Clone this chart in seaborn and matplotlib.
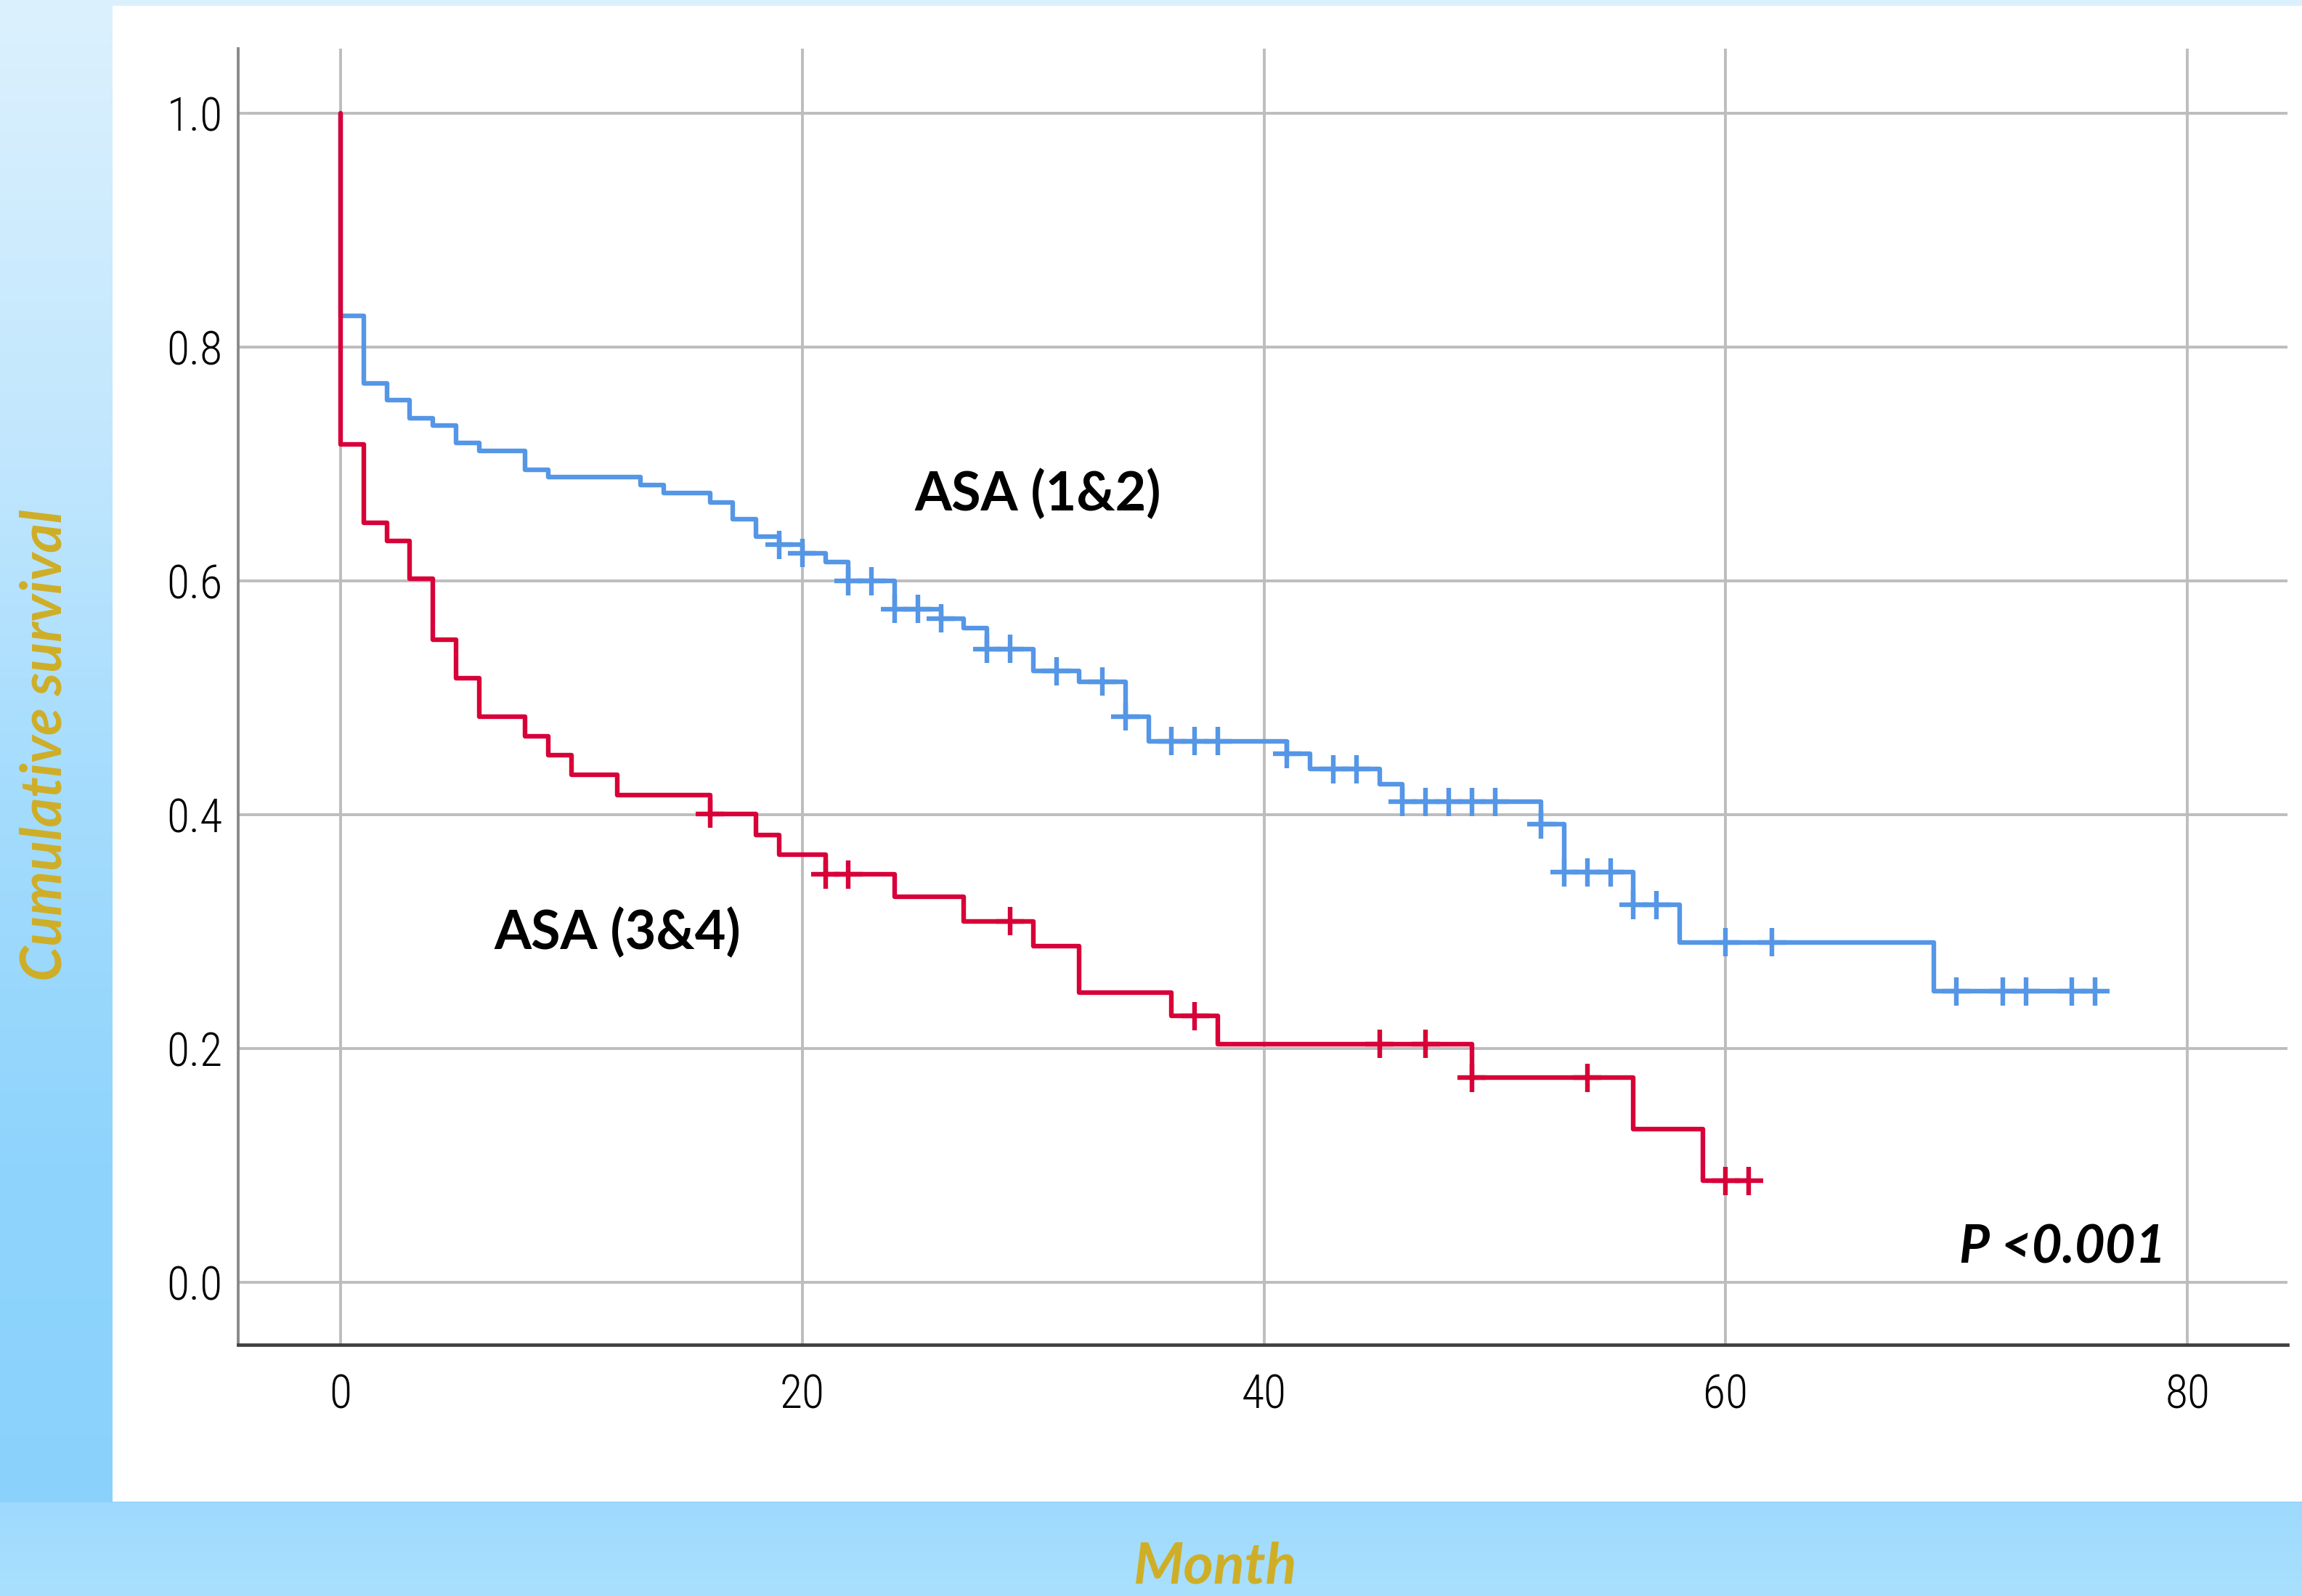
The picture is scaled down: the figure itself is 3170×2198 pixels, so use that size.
import numpy as np
import pandas as pd
import seaborn as sns
import matplotlib.pyplot as plt
from matplotlib.colors import to_rgb
from matplotlib.patches import Rectangle

# Kaplan-Meier steps
# ASA (1&2): times of the drops and the survival after each drop
times_12 = [0, 1, 2, 3, 4, 5, 6, 8, 9, 13, 14, 16, 17, 18, 19, 20, 21, 22, 24, 26,
            27, 28, 30, 32, 34, 35, 41, 42, 45, 46, 52, 53, 56, 58, 69]
surv_12 = [0.827, 0.769, 0.755, 0.739, 0.733, 0.718, 0.711, 0.695, 0.689, 0.682,
           0.675, 0.667, 0.653, 0.638, 0.631, 0.624, 0.616, 0.600, 0.576, 0.568,
           0.560, 0.542, 0.523, 0.514, 0.484, 0.463, 0.452, 0.439, 0.426, 0.411,
           0.392, 0.351, 0.323, 0.291, 0.249]
censor_12 = [19, 20, 22, 23, 24, 25, 26, 28, 29, 31, 33, 34, 36, 37, 38, 41, 43, 44,
             46, 47, 48, 49, 50, 52, 53, 54, 55, 56, 57, 60, 62, 70, 72, 73, 75, 76]
end_12 = 76

# ASA (3&4)
times_34 = [0, 1, 2, 3, 4, 5, 6, 8, 9, 10, 12, 16, 18, 19, 21, 24, 27, 30, 32, 36,
            38, 49, 56, 59]
surv_34 = [0.717, 0.650, 0.634, 0.602, 0.550, 0.517, 0.484, 0.467, 0.451, 0.434,
           0.417, 0.401, 0.383, 0.366, 0.349, 0.330, 0.309, 0.288, 0.248, 0.228,
           0.204, 0.175, 0.131, 0.087]
censor_34 = [16, 21, 22, 29, 37, 45, 47, 49, 54, 60, 61]
end_34 = 61

groups = ["ASA (1&2)", "ASA (3&4)"]
x_ticks = [0, 20, 40, 60, 80]
y_ticks = [0.0, 0.2, 0.4, 0.6, 0.8, 1.0]

BLUE = "#5596e6"
RED = "#d70038"
GOLD = "#cfae27"


def steps(name, times, surv, end):
    x = [0] + list(times) + [end]
    y = [1.0] + list(surv) + [surv[-1]]
    return pd.DataFrame({"group": name, "month": x, "surv": y})


def censored(name, times, surv, cens):
    idx = np.searchsorted(times, cens, side="right") - 1
    return pd.DataFrame({"group": name, "month": cens,
                         "surv": np.asarray(surv)[idx]})


curve = pd.concat([steps(groups[0], times_12, surv_12, end_12),
                   steps(groups[1], times_34, surv_34, end_34)], ignore_index=True)
marks = pd.concat([censored(groups[0], times_12, surv_12, censor_12),
                   censored(groups[1], times_34, surv_34, censor_34)], ignore_index=True)

sns.set_theme(style="white")
plt.rcParams["font.family"] = ["Lato", "DejaVu Sans"]

W, H = 3170, 2198
fig = plt.figure(figsize=(W / 100, H / 100), dpi=100)

# light blue gradient frame behind a white panel
bg = fig.add_axes([0, 0, 1, 1], zorder=-10)
ypix = np.arange(H)
stops_y = [0, 600, 1100, 1600, 2068]
stops_c = ["#dcf1fd", "#c2e7fd", "#a4dcfd", "#8fd4fc", "#8ad2fc"]
cols = np.array([to_rgb(c) for c in stops_c])
img = np.zeros((H, 1, 3))
for k in range(3):
    img[:, 0, k] = np.interp(ypix, stops_y, cols[:, k])
low = ypix > 2068
b0, b1 = np.array(to_rgb("#9edafd")), np.array(to_rgb("#a9e0fd"))
t = (ypix[low] - 2068) / (H - 2068)
img[low, 0, :] = b0 + (b1 - b0) * t[:, None]
bg.imshow(img, aspect="auto", extent=[0, 1, 0, 1])
bg.add_patch(Rectangle((155 / W, 1 - 2068 / H), 1, (2068 - 8) / H,
                       transform=bg.transAxes, color="white", lw=0))
bg.set_axis_off()

ax = fig.add_axes([327.5 / W, 1 - 1852 / H, (3150 - 327.5) / W, (1852 - 66.7) / H])
ax.set_facecolor("white")

pal = {groups[0]: BLUE, groups[1]: RED}
sns.lineplot(data=curve, x="month", y="surv", hue="group", palette=pal,
             estimator=None, sort=False, drawstyle="steps-post", linewidth=4.6,
             hue_order=groups, legend=False, ax=ax, zorder=3)
sns.scatterplot(data=marks, x="month", y="surv", hue="group", palette=pal,
                hue_order=groups, marker="+", s=28 ** 2, linewidth=4.6,
                legend=False, ax=ax, zorder=4)

ax.set_xlim(-4.45, 84.33)
ax.set_ylim(-0.0533, 1.0556)
ax.set_xticks(x_ticks)
ax.set_yticks(y_ticks)
ax.set_yticklabels([f"{v:.1f}" for v in y_ticks])
ax.grid(True, color="#bdbdbd", lw=2.8)
ax.set_axisbelow(True)
ax.set_xlabel("")
ax.set_ylabel("")
for s in ["top", "right"]:
    ax.spines[s].set_visible(False)
ax.spines["left"].set_color("#8a8a8a")
ax.spines["left"].set_linewidth(2.8)
ax.spines["bottom"].set_color("#404040")
ax.spines["bottom"].set_linewidth(3.4)
ax.tick_params(axis="both", length=0, labelsize=46, labelcolor="black")
ax.tick_params(axis="y", pad=15)
ax.tick_params(axis="x", pad=28)
for lab in ax.get_xticklabels() + ax.get_yticklabels():
    lab.set_family(["Liberation Sans Narrow", "Roboto Condensed", "DejaVu Sans"])
    lab.set_fontweight("light")
    lab.set_fontstretch("condensed")

ax.text(30.2, 0.660, "ASA (1&2)", ha="center", va="baseline", fontsize=53,
        fontweight="bold", color="black", zorder=5)
ax.text(12.0, 0.285, "ASA (3&4)", ha="center", va="baseline", fontsize=53,
        fontweight="bold", color="black", zorder=5)
ax.text(74.6, 0.0167, "P <0.001", ha="center", va="baseline", fontsize=52,
        fontweight="bold", fontstyle="italic", color="black", zorder=5)

fig.text(63 / W, 1 - 1026 / H, "Cumulative survival", rotation=90, ha="center",
         va="center", fontsize=56, fontweight="bold", fontstyle="italic", color=GOLD)
fig.text(1674 / W, 0.0015, "Month", ha="center", va="bottom",
         fontsize=57, fontweight="bold", fontstyle="italic", color=GOLD)

fig.savefig("out.png", dpi=100)
